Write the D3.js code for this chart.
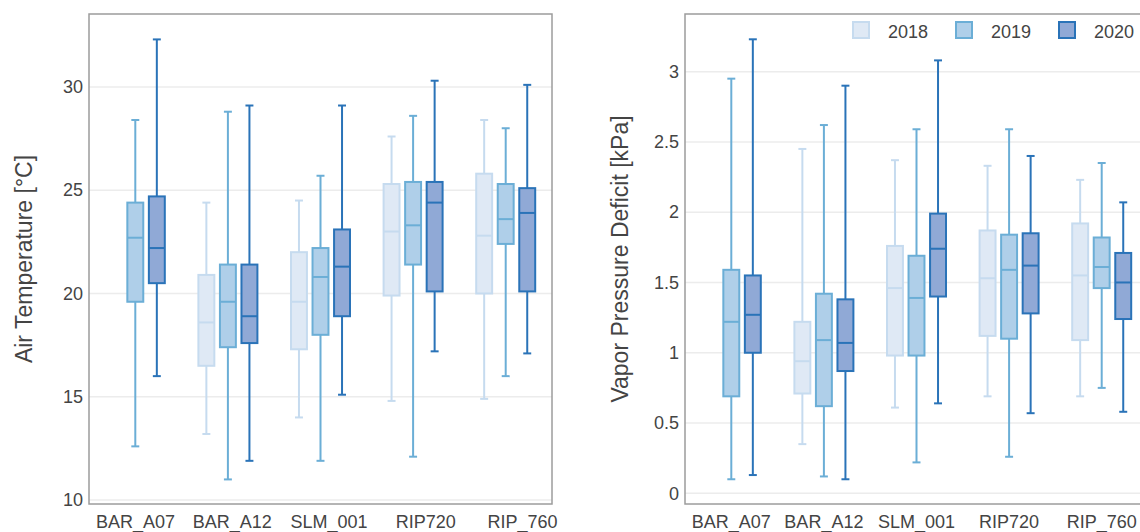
<!DOCTYPE html>
<html>
<head>
<meta charset="utf-8">
<script src="https://cdn.jsdelivr.net/npm/d3@7"></script>
<style>
  body { margin: 0; background: #fff; }
  text { font-family: "Liberation Sans", Arial, sans-serif; fill: #444; }
</style>
</head>
<body>
<div id="chart"></div>
<script>
// categories and series
var sites = ["BAR_A07", "BAR_A12", "SLM_001", "RIP720", "RIP_760"];
var years = ["2018", "2019", "2020"];

// box stats per site: [lower whisker, q1, median, q3, upper whisker]
var temp2018 = [null, [13.2, 16.5, 18.6, 20.9, 24.4], [14.0, 17.3, 19.6, 22.0, 24.5], [14.8, 19.9, 23.0, 25.3, 27.6], [14.9, 20.0, 22.8, 25.8, 28.4]];
var temp2019 = [[12.6, 19.6, 22.7, 24.4, 28.4], [11.0, 17.4, 19.6, 21.4, 28.8], [11.9, 18.0, 20.8, 22.2, 25.7], [12.1, 21.4, 23.3, 25.4, 28.6], [16.0, 22.4, 23.6, 25.3, 28.0]];
var temp2020 = [[16.0, 20.5, 22.2, 24.7, 32.3], [11.9, 17.6, 18.9, 21.4, 29.1], [15.1, 18.9, 21.3, 23.1, 29.1], [17.2, 20.1, 24.4, 25.4, 30.3], [17.1, 20.1, 23.9, 25.1, 30.1]];

var vpd2018 = [null, [0.35, 0.71, 0.94, 1.22, 2.45], [0.61, 0.98, 1.46, 1.76, 2.37], [0.69, 1.12, 1.53, 1.87, 2.33], [0.69, 1.09, 1.55, 1.92, 2.23]];
var vpd2019 = [[0.10, 0.69, 1.22, 1.59, 2.95], [0.12, 0.62, 1.09, 1.42, 2.62], [0.22, 0.98, 1.39, 1.69, 2.59], [0.26, 1.10, 1.59, 1.84, 2.59], [0.75, 1.46, 1.61, 1.82, 2.35]];
var vpd2020 = [[0.13, 1.00, 1.27, 1.55, 3.23], [0.10, 0.87, 1.07, 1.38, 2.90], [0.64, 1.40, 1.74, 1.99, 3.08], [0.57, 1.28, 1.62, 1.85, 2.40], [0.58, 1.24, 1.50, 1.71, 2.07]];

var tempTicks = [10, 15, 20, 25, 30];
var vpdTicks = [0, 0.5, 1, 1.5, 2, 2.5, 3];

// year styles
var strokes = {"2018": "#c6dbef", "2019": "#6baed6", "2020": "#2a73b8"};
var fills = {"2018": "#dfe9f5", "2019": "#afcfe9", "2020": "#90a9d6"};

var width = 1140, height = 532;
var plotTop = 14, plotBottom = 504, plotW = 463;

var svg = d3.select("#chart").append("svg")
    .attr("width", width)
    .attr("height", height);

// left panel's category labels sit a bit wider apart than its boxes
var panels = [
  {left: 89, domain: [9.81, 33.53], ticks: tempTicks, title: "Air Temperature [°C]",
   labelRange: [135, 522],
   series: {"2018": temp2018, "2019": temp2019, "2020": temp2020}},
  {left: 685, domain: [-0.076, 3.41], ticks: vpdTicks, title: "Vapor Pressure Deficit [kPa]",
   labelRange: null,
   series: {"2018": vpd2018, "2019": vpd2019, "2020": vpd2020}}
];

panels.forEach(function(p) {
  var x = d3.scaleBand().domain(sites).range([p.left, p.left + plotW]);
  var xs = d3.scaleBand().domain(years).range([0, x.bandwidth()])
      .paddingInner(0.26).paddingOuter(0.78);
  var y = d3.scaleLinear().domain(p.domain).range([plotBottom, plotTop]);
  var xLab = p.labelRange ? d3.scalePoint().domain(sites).range(p.labelRange) : x;

  var g = svg.append("g");

  // gridlines
  g.selectAll(".grid").data(p.ticks).enter().append("line")
    .attr("x1", p.left).attr("x2", p.left + plotW)
    .attr("y1", function(d) { return y(d); })
    .attr("y2", function(d) { return y(d); })
    .style("stroke", "#ececec")
    .style("stroke-width", 1.5);

  // frame
  g.append("rect")
    .attr("x", p.left).attr("y", plotTop)
    .attr("width", plotW).attr("height", plotBottom - plotTop)
    .style("fill", "none")
    .style("stroke", "#9c9c9c")
    .style("stroke-width", 1.5);

  // y axis
  var yAxis = g.append("g")
    .attr("transform", "translate(" + p.left + ",0)")
    .call(d3.axisLeft(y).tickValues(p.ticks).tickSize(0).tickPadding(6)
      .tickFormat(function(d) { return String(d); }));
  yAxis.select(".domain").remove();
  yAxis.selectAll("text").style("font-size", "18px")
    .style("font-family", "'Liberation Sans', Arial, sans-serif").style("fill", "#444");

  // x axis
  var xAxis = g.append("g")
    .attr("transform", "translate(0," + plotBottom + ")")
    .call(d3.axisBottom(xLab).tickSize(0).tickPadding(11));
  xAxis.select(".domain").remove();
  xAxis.selectAll("text").style("font-size", "18px")
    .style("font-family", "'Liberation Sans', Arial, sans-serif").style("fill", "#444");

  // y title
  g.append("text")
    .attr("transform", "translate(" + (p.left - 57) + "," + ((plotTop + plotBottom) / 2) + ") rotate(-90)")
    .attr("text-anchor", "middle")
    .style("font-size", "23px")
    .text(p.title);

  // boxes
  years.forEach(function(yr) {
    var bw = xs.bandwidth();
    var boxes = g.selectAll(".box" + yr)
      .data(p.series[yr].map(function(s, i) { return {site: sites[i], s: s}; })
        .filter(function(d) { return d.s; }))
      .enter().append("g")
      .attr("transform", function(d) { return "translate(" + (x(d.site) + xs(yr)) + ",0)"; });

    boxes.append("line")
      .attr("x1", bw / 2).attr("x2", bw / 2)
      .attr("y1", function(d) { return y(d.s[0]); })
      .attr("y2", function(d) { return y(d.s[4]); })
      .style("stroke", strokes[yr]).style("stroke-width", 2);

    boxes.selectAll(".cap").data(function(d) { return [d.s[0], d.s[4]]; })
      .enter().append("line")
      .attr("x1", bw / 4).attr("x2", bw * 3 / 4)
      .attr("y1", function(v) { return y(v); })
      .attr("y2", function(v) { return y(v); })
      .style("stroke", strokes[yr]).style("stroke-width", 2);

    boxes.append("rect")
      .attr("x", 0).attr("width", bw)
      .attr("y", function(d) { return y(d.s[3]); })
      .attr("height", function(d) { return y(d.s[1]) - y(d.s[3]); })
      .style("fill", fills[yr])
      .style("stroke", strokes[yr]).style("stroke-width", 2);

    boxes.append("line")
      .attr("x1", 0).attr("x2", bw)
      .attr("y1", function(d) { return y(d.s[2]); })
      .attr("y2", function(d) { return y(d.s[2]); })
      .style("stroke", strokes[yr]).style("stroke-width", 2);
  });
});

// legend
var legend = svg.append("g").attr("transform", "translate(852,21)");
var item = legend.selectAll("g").data(years).enter().append("g")
  .attr("transform", function(d, i) { return "translate(" + (i * 103) + ",0)"; });
item.append("rect")
  .attr("x", 1).attr("y", 1).attr("width", 16).attr("height", 16)
  .style("fill", function(d) { return fills[d]; })
  .style("stroke", function(d) { return strokes[d]; })
  .style("stroke-width", 2);
item.append("text")
  .attr("x", 36).attr("y", 16.5)
  .style("font-size", "18px")
  .text(function(d) { return d; });
</script>
</body>
</html>
